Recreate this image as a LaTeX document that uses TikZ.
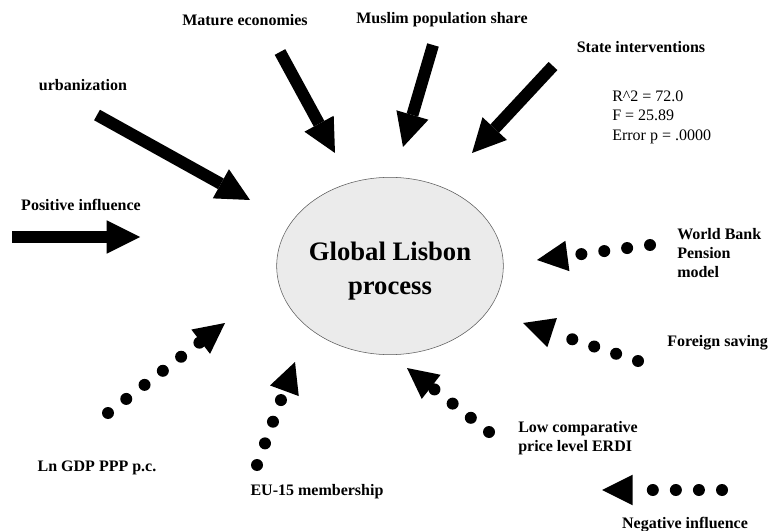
\documentclass[tikz,border=0pt]{standalone}
\usepackage{fontspec}
\setmainfont{Liberation Serif}
\usetikzlibrary{arrows.meta,shapes.geometric}

\begin{document}
\begin{tikzpicture}[x=0.75pt,y=-0.75pt,
  lbl/.style={font=\fontsize{12}{14.6}\selectfont\bfseries,inner sep=0pt,align=left},
  stat/.style={font=\fontsize{12}{14.6}\selectfont,inner sep=0pt,align=left},
  plus/.style={line width=9pt,-{Triangle[length=25pt,width=25pt,line width=0pt]}},
  minus/.style={line width=9pt,line cap=round,dash pattern=on 0pt off 17.3pt,-{Triangle[length=23pt,width=23pt,line width=0pt]}}]
  \useasboundingbox (0,0) rectangle (768,531);
  %centre
  \node[ellipse,draw=black!65,thin,fill=black!8,minimum width=170pt,minimum height=133pt] (glp) at (390,266) {};
  \node[font=\fontsize{20}{25}\selectfont\bfseries,align=center,inner sep=0pt] (glp-txt) at (390,271) {Global Lisbon\\process};
  %labels
  \node[lbl] (mat) at (245,20) {Mature economies};
  \node[lbl] (mus) at (442,20) {Muslim population share};
  \node[lbl] (sta) at (641,47) {State interventions};
  \node[lbl] (urb) at (83,85) {urbanization};
  \node[lbl] (pos) at (81,205) {Positive influence};
  \node[lbl,anchor=west] (wbp) at (677,253) {World Bank\\Pension\\model};
  \node[lbl,anchor=west] (fsv) at (667,343) {Foreign saving};
  \node[lbl,anchor=west] (lcp) at (518,438) {Low comparative\\price level ERDI};
  \node[lbl] (neg) at (685,525) {Negative influence};
  \node[lbl] (gdp) at (97,468) {Ln GDP PPP p.c.};
  \node[lbl] (eu) at (317,492) {EU-15 membership};
  \node[stat,anchor=west] (fit) at (612,117) {R\^{}2 = 72.0\\F = 25.89\\Error p = .0000};
  %positive
  \coordinate (pos-t) at (12,237);   \coordinate (pos-h) at (140,237);
  \coordinate (urb-t) at (97,115);   \coordinate (urb-h) at (250,200);
  \coordinate (mat-t) at (280,52);   \coordinate (mat-h) at (335,153);
  \coordinate (mus-t) at (433,45);   \coordinate (mus-h) at (403,147);
  \coordinate (sta-t) at (553,66);   \coordinate (sta-h) at (472,153);
  \foreach \a in {pos,urb,mat,mus,sta}
    \draw[plus] (\a-t) -- (\a-h);
  %negative
  \coordinate (wbp-t) at (650,245);  \coordinate (wbp-h) at (537,260);
  \coordinate (fsv-t) at (638,361);  \coordinate (fsv-h) at (523,323);
  \coordinate (lcp-t) at (489,432);  \coordinate (lcp-h) at (407,368);
  \coordinate (neg-t) at (722,490);  \coordinate (neg-h) at (602,490);
  \coordinate (gdp-t) at (108,413);  \coordinate (gdp-h) at (225,323);
  \coordinate (eu-t) at (257,465);   \coordinate (eu-h) at (295,362);
  \foreach \a in {wbp,fsv,lcp,neg,gdp,eu}
    \draw[minus] (\a-t) -- (\a-h);
\end{tikzpicture}
\end{document}
